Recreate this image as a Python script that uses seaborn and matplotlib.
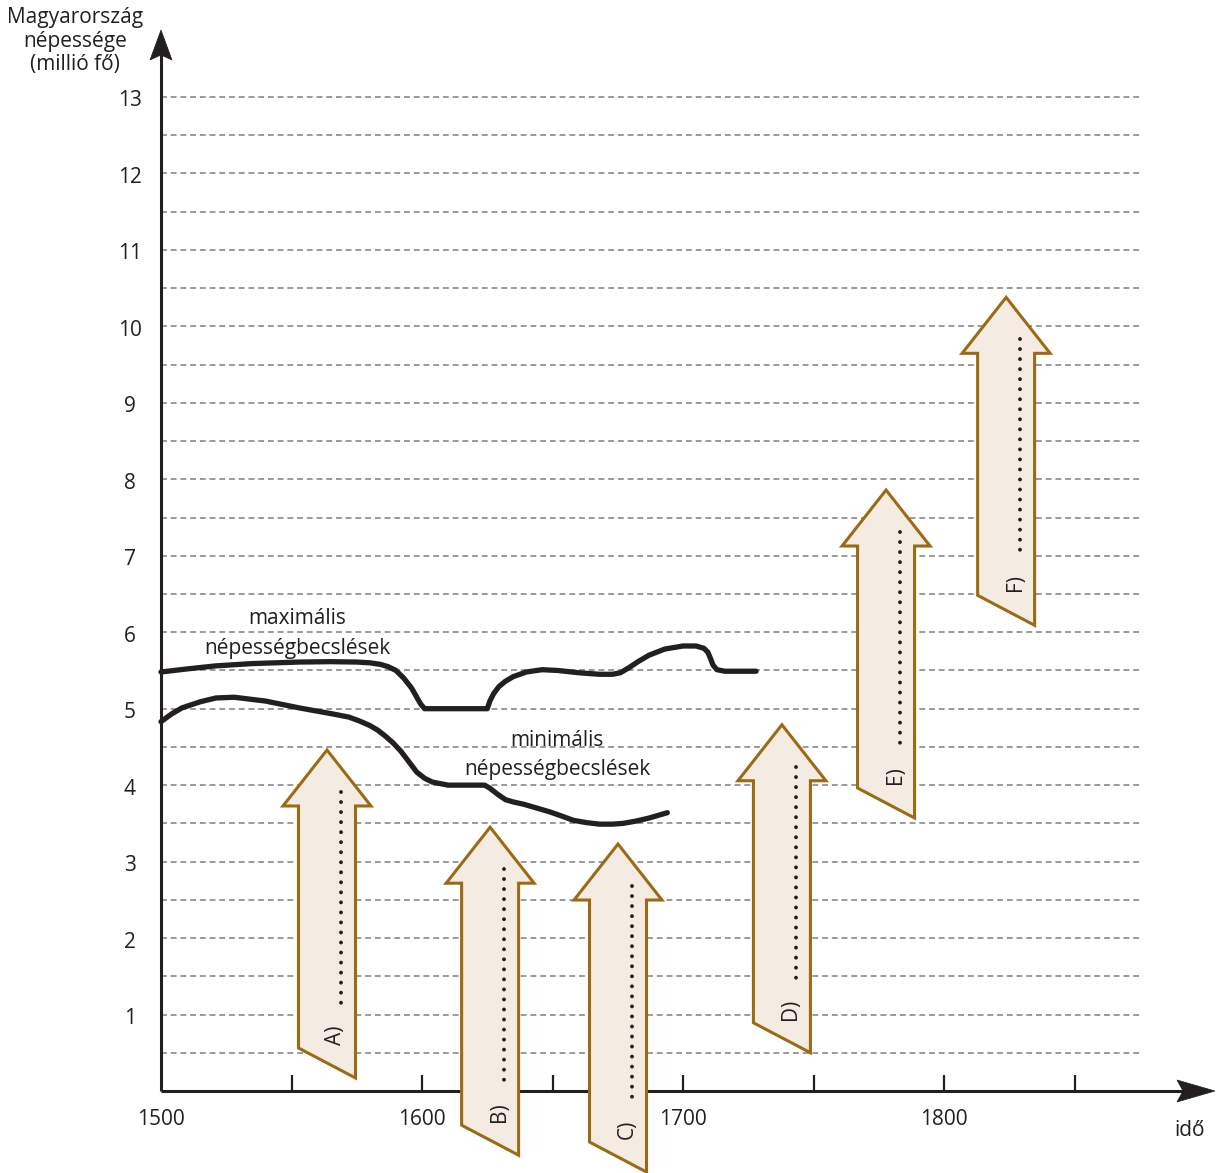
import numpy as np
import pandas as pd
import matplotlib
matplotlib.use("Agg")
import matplotlib.pyplot as plt
from matplotlib.patches import Polygon
import seaborn as sns

# ---------------- data ----------------
max_years = [1500, 1510, 1521, 1535, 1553, 1565, 1575, 1580, 1584, 1587, 1590, 1593, 1596, 1598, 1599.5, 1601,
             1625, 1626, 1627.5, 1629.5, 1632, 1635, 1640, 1646, 1652, 1660, 1668, 1673, 1676, 1679, 1683, 1687,
             1693, 1700, 1705, 1708, 1709.5, 1710.5, 1711.5, 1713, 1716, 1728]
max_pop = [5.48, 5.52, 5.56, 5.59, 5.61, 5.615, 5.61, 5.60, 5.58, 5.55, 5.50, 5.40, 5.27, 5.15, 5.06, 5.00,
           5.00, 5.10, 5.20, 5.29, 5.36, 5.42, 5.48, 5.51, 5.50, 5.47, 5.45, 5.45, 5.47, 5.53, 5.62, 5.70,
           5.78, 5.82, 5.82, 5.79, 5.74, 5.66, 5.57, 5.51, 5.49, 5.49]

min_years = [1500, 1504, 1508, 1515, 1521, 1528, 1540, 1553, 1566, 1572, 1576, 1580, 1583, 1586, 1589, 1592, 1594,
             1596, 1598, 1601, 1604, 1610, 1624, 1626, 1629, 1632, 1635, 1639, 1644, 1649, 1654, 1658, 1663,
             1668, 1673, 1677, 1682, 1687, 1694]
min_pop = [4.83, 4.93, 5.01, 5.09, 5.14, 5.15, 5.10, 5.01, 4.93, 4.89, 4.84, 4.78, 4.72, 4.64, 4.55, 4.44, 4.35,
           4.26, 4.17, 4.09, 4.04, 4.00, 4.00, 3.96, 3.88, 3.81, 3.78, 3.75, 3.70, 3.65, 3.59, 3.54, 3.51,
           3.49, 3.49, 3.50, 3.53, 3.57, 3.64]

arrow_labels = ["A)", "B)", "C)", "D)", "E)", "F)"]
arrow_years = [1563.6, 1626.1, 1675.1, 1737.9, 1777.8, 1823.8]
arrow_tops = [4.46, 3.45, 3.23, 4.79, 7.86, 10.38]

x_tick_labels = ["1500", "1600", "1700", "1800"]
x_label_years = [1500, 1600, 1700, 1800]
x_tick_years = [1550, 1600, 1650, 1700, 1750, 1800, 1850]
y_tick_values = list(range(1, 14))
y_title_lines = ["Magyarország", "népessége", "(millió fő)"]
x_title = "idő"
max_label = ["maximális", "népességbecslések"]
min_label = ["minimális", "népességbecslések"]

# ---------------- layout helpers ----------------
W, H = 1219, 1173
YPP = 300 / 783.0      # years per pixel
UPP = 13 / 994.0       # units per pixel
X0 = 1500 - 161 * YPP
X1 = 1500 + (W - 161) * YPP
Y0 = (1091 - H) * UPP
Y1 = 1091 * UPP
TXT_DY = 2.5 * UPP     # small downward shift for text centring

def px(xp):
    return 1500 + (xp - 161) * YPP

def py(yp):
    return (1091 - yp) * UPP

sns.set_theme(style="white")
plt.rcParams["font.family"] = ["Open Sans", "DejaVu Sans"]

fig = plt.figure(figsize=(W / 100, H / 100), dpi=100)
ax = fig.add_axes([0, 0, 1, 1])
ax.set_xlim(X0, X1)
ax.set_ylim(Y0, Y1)
ax.axis("off")

dark = "#231f20"
FS = 15

# grid lines
ax.hlines(np.arange(0.5, 13.01, 0.5), 1500, px(1140), colors="#9a9a9a",
          linestyles=(0, (3, 2)), lw=1.4, zorder=1)

# axes lines with arrowheads
ytip = py(30)
ax.plot([1500, 1500], [0, ytip - 0.2], color=dark, lw=2.2, zorder=2, solid_capstyle="butt")
ax.add_patch(Polygon([[1500, ytip], [1500 - 11 * YPP, ytip - 30 * UPP],
                      [1500, ytip - 25 * UPP], [1500 + 11 * YPP, ytip - 30 * UPP]],
                     closed=True, facecolor=dark, edgecolor=dark, lw=0.5, zorder=2))
xtip = px(1215)
ax.plot([1500, xtip - 20 * YPP], [0, 0], color=dark, lw=2.2, zorder=2, solid_capstyle="butt")
ax.add_patch(Polygon([[xtip, 0], [xtip - 38 * YPP, 11 * UPP],
                      [xtip - 32 * YPP, 0], [xtip - 38 * YPP, -11 * UPP]],
                     closed=True, facecolor=dark, edgecolor=dark, lw=0.5, zorder=2))

# ticks
ax.vlines(x_tick_years, 0, 16 * UPP, colors=dark, lw=1.6, zorder=2)
for yr, lab in zip(x_label_years, x_tick_labels):
    ax.text(yr, py(1117) - TXT_DY, lab, ha="center", va="center", fontsize=FS, color=dark)
for v in y_tick_values:
    ax.text(px(130), v - TXT_DY - 1.5 * UPP, str(v), ha="center", va="center", fontsize=FS, color=dark)

for t, yp in zip(y_title_lines, [15, 39, 62]):
    ax.text(px(75), py(yp) - TXT_DY, t, ha="center", va="center", fontsize=FS, color=dark)
ax.text(px(1190), py(1128) - TXT_DY, x_title, ha="center", va="center", fontsize=FS, color=dark)

# curves
df_max = pd.DataFrame({"year": max_years, "pop": max_pop})
df_min = pd.DataFrame({"year": min_years, "pop": min_pop})
sns.lineplot(data=df_max, x="year", y="pop", estimator=None, sort=False, color=dark,
             lw=3.8, ax=ax, zorder=4)
sns.lineplot(data=df_min, x="year", y="pop", estimator=None, sort=False, color=dark,
             lw=3.8, ax=ax, zorder=4)
for ln in ax.lines[-2:]:
    ln.set_solid_joinstyle("round")
ax.set_xlim(X0, X1)
ax.set_ylim(Y0, Y1)
ax.axis("off")

ax.text(px(297), py(616) - TXT_DY, max_label[0], ha="center", va="center", fontsize=FS, color=dark)
ax.text(px(297), py(646) - TXT_DY, max_label[1], ha="center", va="center", fontsize=FS, color=dark)
ax.text(px(557), py(738) - TXT_DY, min_label[0], ha="center", va="center", fontsize=FS, color=dark)
ax.text(px(557), py(767) - TXT_DY, min_label[1], ha="center", va="center", fontsize=FS, color=dark)

# block arrows
fill = "#f4ece2"
edge = "#9c6a14"
hh = 56 * UPP
hw = 44 * YPP
sw = 28.5 * YPP
bl = 298 * UPP
br = 328 * UPP
for lab, xa, ya in zip(arrow_labels, arrow_years, arrow_tops):
    pts = [[xa, ya], [xa + hw, ya - hh], [xa + sw, ya - hh], [xa + sw, ya - br],
           [xa - sw, ya - bl], [xa - sw, ya - hh], [xa - hw, ya - hh]]
    ax.add_patch(Polygon(pts, closed=True, facecolor=fill, edgecolor=edge, lw=2.2,
                         joinstyle="miter", zorder=5, clip_on=False))
    xd = xa + 14 * YPP
    ax.plot([xd, xd], [ya - 42 * UPP, ya - 262 * UPP], color=dark, lw=2.8,
            linestyle=(0, (0.01, 2.57)), dash_capstyle="round", zorder=6)
    ax.text(xa + 9 * YPP, ya - 285 * UPP, lab, rotation=90, ha="center", va="center",
            fontsize=15, color=dark, zorder=7)

fig.savefig("out.png", dpi=100)
